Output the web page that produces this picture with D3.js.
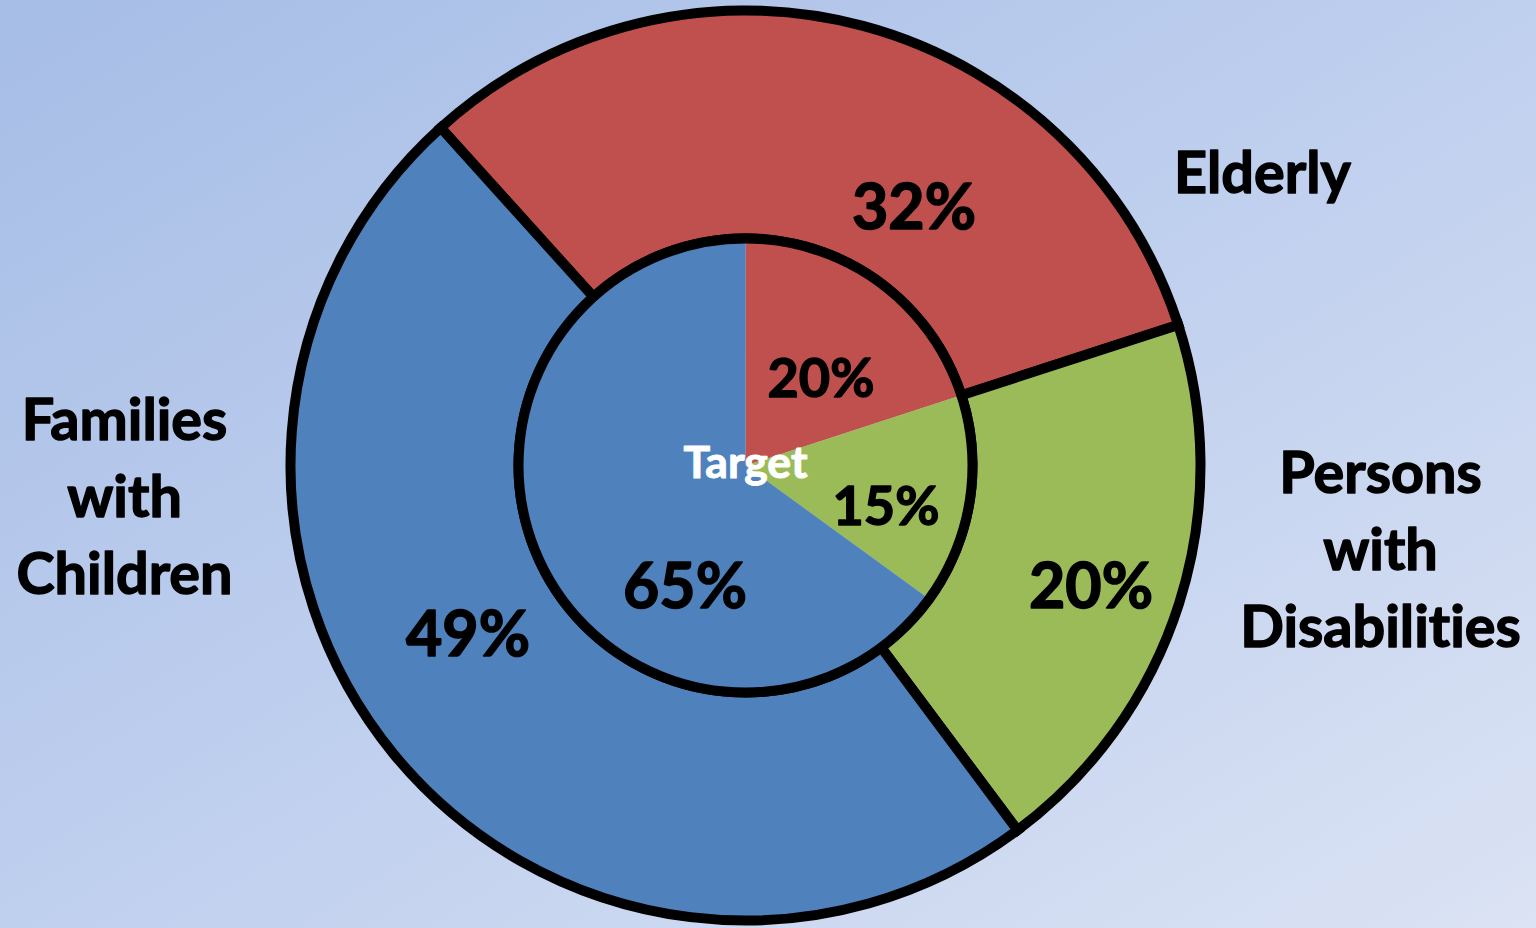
<!DOCTYPE html>
<html><head><meta charset="utf-8">
<script src="https://cdn.jsdelivr.net/npm/d3@7/dist/d3.min.js"></script>
<style>html,body{margin:0;padding:0;overflow:hidden;background:#c0d0ee} svg{display:block}
text{font-variant-ligatures:none;font-feature-settings:"liga" 0,"clig" 0;}</style>
</head><body>
<svg id="chart" width="1536" height="928"></svg>
<script>
// ---- data ----
const categories = ["Elderly", "Persons with Disabilities", "Families with Children"];
const categoryLines = [["Elderly"], ["Persons", "with", "Disabilities"], ["Families", "with", "Children"]];
const actualValues = [32, 20, 49];   // outer ring
const targetValues = [20, 15, 65];   // inner pie
const centerLabel = "Target";

// ---- style / layout ----
const colors = ["#c0504d", "#9bbb59", "#4f81bd"];
const W = 1536, H = 928;
const cx = 745.5, cy = 465.5;
const rInner = 227, rOuter = 455;
const strokeW = 10;
const outerRotationDeg = -42.06;
const FONT = "Lato, 'Open Sans', sans-serif";
// label anchor positions relative to centre (dx, baseline dy)
const outerLabelPos = [[168.5, -236.5], [345.5, 142.5], [-277.5, 190.5]];
const innerLabelPos = [[75.5, -68.5], [140.5, 59.5], [-60.5, 142.5]];
const catLabelPos = [[517, -272.5], [635, 27.5], [-621, -25.5]];
const lineStep = 77;

const svg = d3.select("#chart");
const defs = svg.append("defs");
const grad = defs.append("linearGradient").attr("id", "bg")
  .attr("x1", 0).attr("y1", 0).attr("x2", 1).attr("y2", 1);
grad.append("stop").attr("offset", "0%").attr("stop-color", "#a6bde6");
grad.append("stop").attr("offset", "50%").attr("stop-color", "#bfcfee");
grad.append("stop").attr("offset", "100%").attr("stop-color", "#dbe3f4");
svg.append("rect").attr("width", W).attr("height", H).attr("fill", "url(#bg)");

const g = svg.append("g").attr("transform", `translate(${cx},${cy})`);

const rot = outerRotationDeg * Math.PI / 180;
const outerPie = d3.pie().sort(null).startAngle(rot).endAngle(rot + 2 * Math.PI);
const innerPie = d3.pie().sort(null).startAngle(0).endAngle(2 * Math.PI);

const outerArc = d3.arc().innerRadius(rInner).outerRadius(rOuter);
const innerArc = d3.arc().innerRadius(0).outerRadius(rInner);

g.selectAll("path.outer").data(outerPie(actualValues)).join("path")
  .attr("class", "outer")
  .attr("d", outerArc)
  .attr("fill", (d, i) => colors[i])
  .attr("stroke", "#000").attr("stroke-width", strokeW).attr("stroke-linejoin", "miter");

g.selectAll("path.inner").data(innerPie(targetValues)).join("path")
  .attr("class", "inner")
  .attr("d", innerArc)
  .attr("fill", (d, i) => colors[i]);

g.append("circle").attr("r", rInner).attr("fill", "none")
  .attr("stroke", "#000").attr("stroke-width", strokeW);

// font fitting helper
function fitSize(str, targetWidth) {
  const t = svg.append("text").attr("font-family", FONT).attr("font-weight", 700)
    .attr("font-size", 100).text(str);
  const w = t.node().getComputedTextLength();
  t.remove();
  return 100 * targetWidth / w;
}
const bigSize = fitSize("32%", 124);
const smallSize = fitSize("20%", 107);
const targetSize = fitSize(centerLabel, 124);
const catSize = fitSize("Children", 216);

const fmt = v => v + "%";

function heavy(sel, col, w) {
  return sel.attr("fill", col).attr("stroke", col).attr("stroke-width", w)
    .attr("stroke-linejoin", "round").attr("paint-order", "stroke");
}

heavy(g.selectAll("text.outerLbl").data(actualValues).join("text")
  .attr("class", "outerLbl")
  .attr("x", (d, i) => outerLabelPos[i][0]).attr("y", (d, i) => outerLabelPos[i][1])
  .attr("text-anchor", "middle").attr("font-family", FONT).attr("font-weight", 700)
  .attr("font-size", bigSize).text(fmt), "#000", 1.6);

heavy(g.selectAll("text.innerLbl").data(targetValues).join("text")
  .attr("class", "innerLbl")
  .attr("x", (d, i) => innerLabelPos[i][0]).attr("y", (d, i) => innerLabelPos[i][1])
  .attr("text-anchor", "middle").attr("font-family", FONT).attr("font-weight", 700)
  .attr("font-size", (d, i) => i === 2 ? bigSize : smallSize).text(fmt), "#000", 1.4);

heavy(g.append("text").attr("x", 0).attr("y", 12.5)
  .attr("text-anchor", "middle").attr("font-family", FONT).attr("font-weight", 700)
  .attr("font-size", targetSize).text(centerLabel), "#fff", 1.0);

categoryLines.forEach((lines, i) => {
  const t = heavy(g.append("text").attr("text-anchor", "middle")
    .attr("font-family", FONT).attr("font-weight", 700)
    .attr("font-size", catSize), "#000", 1.4);
  lines.forEach((ln, j) => {
    t.append("tspan").attr("x", catLabelPos[i][0])
      .attr("y", catLabelPos[i][1] + j * lineStep).text(ln);
  });
});
</script>
</body></html>
